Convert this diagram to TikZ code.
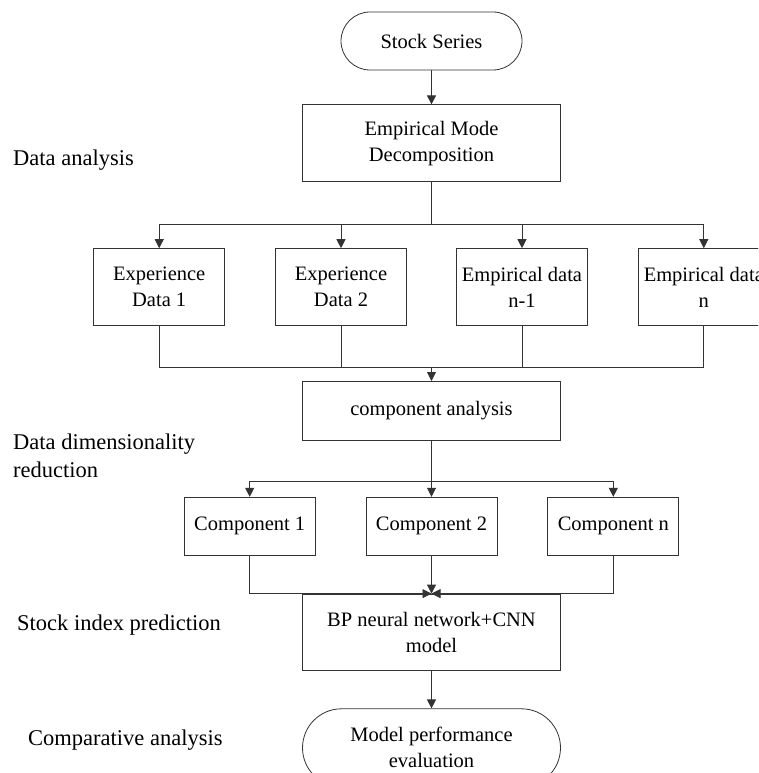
\documentclass[tikz,border=0pt]{standalone}
\usepackage{fontspec}
\setmainfont{Liberation Serif}
\newfontfamily\chartfont{Liberation Serif}
\usetikzlibrary{arrows.meta, positioning}

\begin{document}
\begin{tikzpicture}[
    node distance=38pt,
    box/.style={rectangle, draw=black!80, line width=0.8pt, minimum width=131pt, minimum height=77pt, align=center, inner sep=1pt, font=\chartfont\fontsize{20.5}{26}\selectfont},
    wide/.style={box, minimum width=258pt},
    pill/.style={box, rounded corners=29pt, minimum width=181pt, minimum height=58pt},
    stage/.style={anchor=west, align=left, inner sep=0pt, font=\chartfont\fontsize{22.5}{28}\selectfont},
    line/.style={draw=black!80, line width=0.8pt},
    arrow/.style={line, -{Triangle[length=9pt, width=9pt]}}
]
\path[use as bounding box, clip] (0,0) rectangle (758pt,-773pt);

\node[pill] (stock) at (431.5pt,-41pt) {Stock Series};
\node[wide, below=34pt of stock] (emd) {Empirical Mode\\Decomposition};
\node[box, below=66pt of emd, xshift=-90.5pt] (exp2) {Experience\\Data 2};
\node[box, left=50pt of exp2] (exp1) {Experience\\Data 1};
\node[box, below=66pt of emd, xshift=90.5pt] (emp1) {Empirical data\\n-1};
\node[box, right=50pt of emp1] (empn) {Empirical data\\n};
\node[wide, minimum height=59pt, below=55pt of exp2, xshift=90.5pt] (comp) {component analysis};
\node[box, minimum height=58pt, below=56pt of comp] (comp2) {Component 2};
\node[box, minimum height=58pt, left=50pt of comp2] (comp1) {Component 1};
\node[box, minimum height=58pt, right=50pt of comp2] (compn) {Component n};
\node[wide, minimum height=76pt, below=of comp2] (bpcnn) {BP neural network+CNN\\model};
\node[pill, minimum width=258pt, minimum height=78pt, rounded corners=39pt, below=of bpcnn] (eval) {Model performance\\evaluation};

% stage labels
\node[stage] (lbl1) at (13pt,-160pt) {Data analysis};
\node[stage] (lbl2) at (13pt,-456pt) {Data dimensionality\\reduction};
\node[stage] (lbl3) at (17pt,-625pt) {Stock index prediction};
\node[stage] (lbl4) at (28pt,-740pt) {Comparative analysis};

\coordinate[below=42pt of emd] (split);
\coordinate[above=14pt of comp] (join);
\coordinate[above=15pt of comp2] (split2);

\draw[arrow] (stock) -- (emd);
\draw[line] (emd) -- (split);
\draw[arrow] (split) -| (exp1);
\draw[arrow] (split) -| (exp2);
\draw[arrow] (split) -| (emp1);
\draw[arrow] (split) -| (empn);
\draw[line] (exp1) |- (join);
\draw[line] (exp2) |- (join);
\draw[line] (emp1) |- (join);
\draw[line] (empn) |- (join);
\draw[arrow] (join) -- (comp);
\draw[line] (comp) -- (split2);
\draw[arrow] (split2) -| (comp1);
\draw[arrow] (split2) -- (comp2);
\draw[arrow] (split2) -| (compn);
\draw[arrow] (comp1) |- (bpcnn.north);
\draw[arrow] (comp2) -- (bpcnn);
\draw[arrow] (compn) |- (bpcnn.north);
\draw[arrow] (bpcnn) -- (eval);

\end{tikzpicture}
\end{document}
